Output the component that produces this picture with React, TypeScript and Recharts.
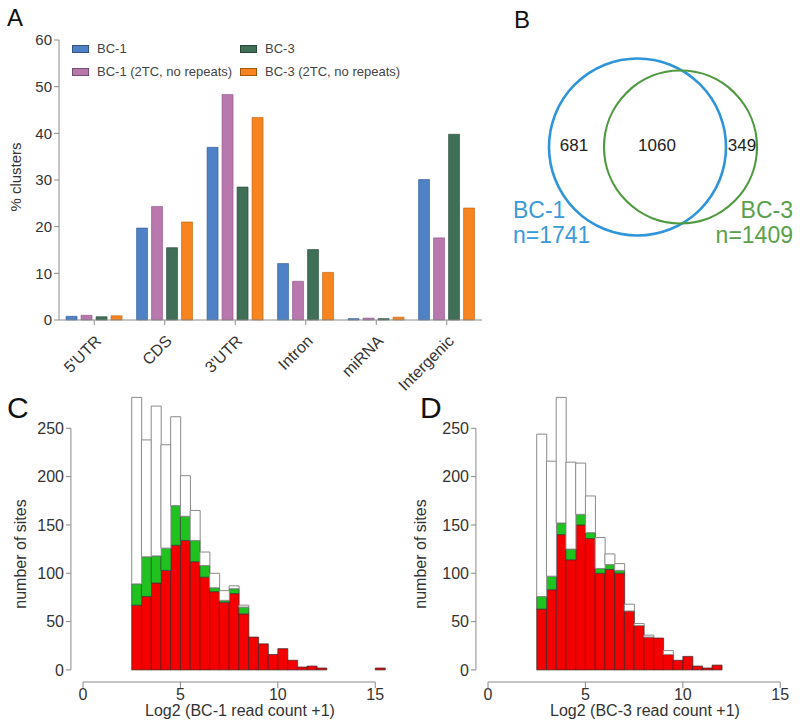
import React from "react";
import {
  BarChart,
  ComposedChart,
  ScatterChart,
  Bar,
  Scatter,
  XAxis,
  YAxis,
  ZAxis,
  Legend,
  Label,
  LabelList,
  ReferenceLine,
} from "recharts";

const FONT = '"Liberation Sans", Arial, Helvetica, sans-serif';
const INK = "#333";
const AXIS = "#8a8a8a";

// ---- A: where the clusters fall (% of clusters)
const regions = ["5'UTR", "CDS", "3'UTR", "Intron", "miRNA", "Intergenic"];
const bc1Pct = [0.8, 19.7, 37.0, 12.1, 0.3, 30.1];
const bc1StrictPct = [1.0, 24.3, 48.3, 8.3, 0.4, 17.6];
const bc3Pct = [0.7, 15.5, 28.5, 15.1, 0.3, 39.8];
const bc3StrictPct = [0.9, 21.0, 43.4, 10.2, 0.6, 24.0];
const pctTicks = [0, 10, 20, 30, 40, 50, 60];

// ---- B: overlap of the two cluster sets
const vennNames = ["BC-1", "BC-3"];
const vennTotals = [1741, 1409];
const vennCounts = [681, 1060, 349]; // BC-1 only, shared, BC-3 only

// ---- C / D: number of sites per 0.5-wide bin of log2(read count + 1), first bin at 2.5
const bc1All = [282, 238, 273, 233, 262, 201, 165, 122, 100, 82, 87, 67, 34, 27, 16, 22, 10, 3, 4, 2, 0, 0, 0, 0, 0, 2];
const bc1Green = [89, 117, 118, 126, 170, 159, 134, 108, 85, 72, 84, 65, 34, 27, 16, 22, 10, 3, 4, 2, 0, 0, 0, 0, 0, 2];
const bc1Red = [67, 76, 90, 103, 129, 134, 112, 96, 81, 70, 79, 58, 34, 27, 16, 22, 10, 3, 4, 2, 0, 0, 0, 0, 0, 2];
const bc3All = [244, 216, 282, 215, 214, 180, 137, 120, 110, 68, 48, 36, 33, 20, 10, 14, 4, 2, 5];
const bc3Green = [76, 97, 152, 125, 161, 142, 105, 109, 103, 61, 46, 34, 33, 16, 10, 14, 4, 2, 5];
const bc3Red = [63, 83, 140, 114, 150, 136, 100, 104, 100, 61, 46, 34, 33, 16, 10, 14, 4, 2, 5];
const countTicks = [0, 50, 100, 150, 200, 250];
const log2Ticks = [0, 5, 10, 15];

const BIN = 0.5;
const FIRST_BIN = 2.5;
const X_END = 15.5;
const Y_MIN = -12.5; // R style gap between the bars and the x axis
const Y_MAX = 300;
const Y_AXIS_GAP = 0.62; // same gap on the left, in x units

const barRows = regions.map((region, i) => ({
  region,
  bc1: bc1Pct[i],
  bc1s: bc1StrictPct[i],
  bc3: bc3Pct[i],
  bc3s: bc3StrictPct[i],
}));

const series = [
  { key: "bc1", name: "BC-1", fill: "#4f81c6", stroke: "#2f5b96" },
  { key: "bc1s", name: "BC-1 (2TC, no repeats)", fill: "#b878ae", stroke: "#875080" },
  { key: "bc3", name: "BC-3", fill: "#3f6f57", stroke: "#26473a" },
  { key: "bc3s", name: "BC-3 (2TC, no repeats)", fill: "#f7841f", stroke: "#b9600f" },
];

const histRows = (all: number[], green: number[], red: number[]) => {
  const rows: any[] = [];
  for (let i = 0; i * BIN < X_END; i++) {
    const start = i * BIN;
    const k = Math.round((start - FIRST_BIN) / BIN);
    const has = k >= 0 && k < all.length;
    rows.push({
      start,
      red: has ? red[k] : null,
      green: has ? green[k] - red[k] : null,
      rest: has ? all[k] - green[k] : null,
    });
  }
  return rows;
};

const rowsC = histRows(bc1All, bc1Green, bc1Red);
const rowsD = histRows(bc3All, bc3Green, bc3Red);

// Venn layout, in px of the venn box
const VENN_CENTERS = [
  [167.5, 147],
  [210.5, 147],
];
const VENN_AREAS = [Math.PI * 88.5 * 88.5, Math.PI * 76.5 * 76.5];
const VENN_COUNT_POS = [
  [104, 145],
  [187, 145],
  [272, 145],
];
const VENN_LABEL_POS = [
  [43, 218],
  [323, 218],
];
const VENN_COLORS = ["#2f95d8", "#4f9a40"];
const VENN_TEXT = ["#3b9ad8", "#5aa04a"];

const yTitle = (text: string, x: number, shift: number, size: number) => (props: any) => {
  const vb = props.viewBox || { x: 0, y: 0, width: 0, height: 0 };
  const cx = vb.x + x;
  const cy = vb.y + vb.height / 2 + shift;
  return (
    <text x={cx} y={cy} transform={`rotate(-90, ${cx}, ${cy})`} textAnchor="middle" dominantBaseline="central" fontSize={size} fill={INK}>
      {text}
    </text>
  );
};

const xTitle = (text: string, baseline: number, shift: number) => (props: any) => {
  const vb = props.viewBox || { x: 0, y: 0, width: 0, height: 0 };
  return (
    <text x={vb.x + vb.width / 2 + shift} y={vb.y + baseline} textAnchor="middle" fontSize={16} fill={INK}>
      {text}
    </text>
  );
};

const HistYTick = (props: any) => {
  const { x, y, payload } = props;
  return (
    <g>
      <line x1={x - 12} x2={x - 17} y1={y} y2={y} stroke={AXIS} />
      <text x={x - 19} y={y} dy="0.36em" textAnchor="end" fontSize={16} fill={INK}>
        {payload.value}
      </text>
    </g>
  );
};

const legendContent = (props: any) => {
  const items = props.payload || [];
  return (
    <div
      style={{
        display: "grid",
        gridTemplateRows: "23px 23px",
        gridAutoFlow: "column",
        gridTemplateColumns: "168px auto",
        fontSize: 13,
        color: "#444",
        fontFamily: FONT,
      }}
    >
      {items.map((it: any) => (
        <div key={it.value} style={{ display: "flex", alignItems: "center", whiteSpace: "nowrap" }}>
          <span
            style={{
              width: 17,
              height: 8,
              background: it.color,
              border: "1px solid rgba(0,0,0,0.35)",
              marginRight: 8,
              boxSizing: "border-box",
            }}
          />
          {it.value}
        </div>
      ))}
    </div>
  );
};

const PanelTag = ({ text, left, top, size }: { text: string; left: number; top: number; size: number }) => (
  <div style={{ position: "absolute", left, top, fontSize: size, lineHeight: 1, color: "#111", fontFamily: FONT }}>{text}</div>
);

const Histogram = ({ rows, title, yWidth, right }: { rows: any[]; title: string; yWidth: number; right: number }) => (
  <ComposedChart width={400} height={367} data={rows} margin={{ top: 20, right, bottom: 0, left: 0 }} barCategoryGap={0} barGap={0}>
    <XAxis
      xAxisId="num"
      dataKey="start"
      type="number"
      domain={[0, X_END]}
      ticks={log2Ticks}
      allowDataOverflow
      axisLine={false}
      tickLine={{ stroke: AXIS }}
      tickSize={6}
      tickMargin={1}
      height={45}
      tick={{ fontSize: 16, fill: INK }}
    >
      <Label content={xTitle(title, 34, 6)} />
    </XAxis>
    <XAxis xAxisId="bin" dataKey="start" height={0} hide />
    <YAxis
      domain={[Y_MIN, Y_MAX]}
      ticks={countTicks}
      allowDataOverflow
      width={yWidth}
      axisLine={false}
      tickLine={false}
      tickSize={0}
      tickMargin={0}
      tick={<HistYTick />}
    >
      <Label content={yTitle("number of sites", 20, 23, 16)} />
    </YAxis>
    <Bar xAxisId="bin" dataKey="red" stackId="h" fill="#f40000" stroke="#3a2a2a" strokeWidth={0.7} isAnimationActive={false} />
    <Bar xAxisId="bin" dataKey="green" stackId="h" fill="#1fc21f" stroke="#3a3a3a" strokeWidth={0.7} isAnimationActive={false} />
    <Bar xAxisId="bin" dataKey="rest" stackId="h" fill="#ffffff" stroke="#8a8a8a" strokeWidth={1} isAnimationActive={false} />
    <ReferenceLine
      xAxisId="num"
      segment={[
        { x: -Y_AXIS_GAP, y: 0 },
        { x: -Y_AXIS_GAP, y: 250 },
      ]}
      stroke={AXIS}
      ifOverflow="visible"
    />
    <ReferenceLine
      xAxisId="num"
      segment={[
        { x: 0, y: Y_MIN },
        { x: 15, y: Y_MIN },
      ]}
      stroke={AXIS}
      ifOverflow="visible"
    />
  </ComposedChart>
);

const ring = (color: string, width: number) => (props: any) => {
  const r = props.size ? Math.sqrt(props.size / Math.PI) : props.width / 2;
  return <circle cx={props.cx} cy={props.cy} r={r} fill="none" stroke={color} strokeWidth={width} />;
};

const setLabel = (total: number, color: string, anchor: "start" | "end") => (p: any) => {
  const vb = p.viewBox || {};
  const x = (vb.x ?? p.x) + (vb.width ?? 0) / 2;
  const y = (vb.y ?? p.y) + (vb.height ?? 0) / 2;
  return (
    <g>
      <text x={x} y={y} textAnchor={anchor} fontSize={23} fill={color}>
        {p.value}
      </text>
      <text x={x} y={y + 25} textAnchor={anchor} fontSize={23} fill={color}>
        {`n=${total}`}
      </text>
    </g>
  );
};

const Venn = () => {
  const countRows = vennCounts.map((count, i) => ({ x: VENN_COUNT_POS[i][0], y: VENN_COUNT_POS[i][1], count }));
  return (
    <ScatterChart width={330} height={300} margin={{ top: 0, right: 0, bottom: 0, left: 0 }}>
      <XAxis type="number" dataKey="x" domain={[0, 330]} allowDataOverflow hide />
      <YAxis type="number" dataKey="y" domain={[0, 300]} allowDataOverflow reversed hide />
      <ZAxis type="number" dataKey="n" domain={[vennTotals[1], vennTotals[0]]} range={[VENN_AREAS[1], VENN_AREAS[0]]} />
      {vennNames.map((name, i) => (
        <Scatter
          key={name}
          name={name}
          data={[{ x: VENN_CENTERS[i][0], y: VENN_CENTERS[i][1], n: vennTotals[i] }]}
          shape={ring(VENN_COLORS[i], i === 0 ? 2.6 : 2.2)}
          isAnimationActive={false}
        />
      ))}
      {vennNames.map((name, i) => (
        <Scatter
          key={name + "-label"}
          data={[{ x: VENN_LABEL_POS[i][0], y: VENN_LABEL_POS[i][1], label: name }]}
          shape={() => <g />}
          isAnimationActive={false}
        >
          <LabelList dataKey="label" content={setLabel(vennTotals[i], VENN_TEXT[i], i === 0 ? "start" : "end")} />
        </Scatter>
      ))}
      <Scatter data={countRows} shape={() => <g />} isAnimationActive={false}>
        <LabelList dataKey="count" position="center" fontSize={17} fill="#222" />
      </Scatter>
    </ScatterChart>
  );
};

export default function App() {
  return (
    <div style={{ position: "absolute", left: 0, top: 0, width: 800, height: 727, background: "#fff", fontFamily: FONT }}>
      <div style={{ position: "absolute", left: 0, top: 0 }}>
        <BarChart width={490} height={400} data={barRows} margin={{ top: 40, right: 8, bottom: 0, left: 0 }} barCategoryGap="10%" barGap={4}>
          <XAxis
            dataKey="region"
            height={80}
            axisLine={{ stroke: AXIS }}
            tickLine={{ stroke: AXIS }}
            tickSize={5}
            tickMargin={9}
            interval={0}
            tick={{ fontSize: 16, fill: INK, angle: -45, textAnchor: "end" }}
          />
          <YAxis
            domain={[0, 60]}
            ticks={pctTicks}
            width={59}
            axisLine={{ stroke: AXIS }}
            tickLine={{ stroke: AXIS }}
            tickSize={5}
            tickMargin={2}
            tick={{ fontSize: 15, fill: INK }}
          >
            <Label content={yTitle("% clusters", 15, -3, 15)} />
          </YAxis>
          <Legend
            layout="horizontal"
            verticalAlign="middle"
            align="center"
            content={legendContent}
            wrapperStyle={{ top: 37, left: 72, width: "auto" }}
          />
          {series.map((s) => (
            <Bar key={s.key} dataKey={s.key} name={s.name} fill={s.fill} stroke={s.stroke} strokeWidth={0.6} isAnimationActive={false} />
          ))}
        </BarChart>
      </div>
      <div style={{ position: "absolute", left: 470, top: 0 }}>
        <Venn />
      </div>
      <div style={{ position: "absolute", left: 0, top: 360 }}>
        <Histogram rows={rowsC} title="Log2 (BC-1 read count +1)" yWidth={83} right={15} />
      </div>
      <div style={{ position: "absolute", left: 400, top: 360 }}>
        <Histogram rows={rowsD} title="Log2 (BC-3 read count +1)" yWidth={88} right={10} />
      </div>
      <PanelTag text="A" left={7} top={6} size={24} />
      <PanelTag text="B" left={514} top={8} size={24} />
      <PanelTag text="C" left={7} top={393} size={30} />
      <PanelTag text="D" left={420} top={393} size={30} />
    </div>
  );
}
